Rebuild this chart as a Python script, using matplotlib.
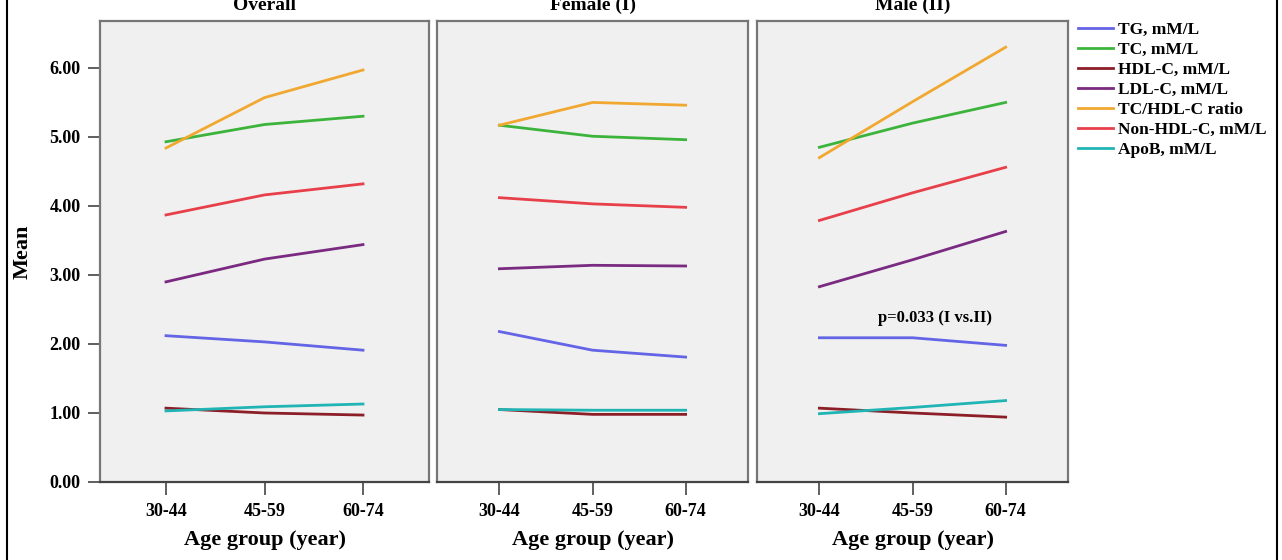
import matplotlib
matplotlib.use("Agg")
import matplotlib.pyplot as plt
from matplotlib.lines import Line2D

plt.rcParams['font.family'] = ['Liberation Serif', 'DejaVu Serif']
plt.rcParams['font.weight'] = 'bold'

age_groups = ["30-44", "45-59", "60-74"]
panels = ["Overall", "Female (I)", "Male (II)"]
series = ["TG, mM/L", "TC, mM/L", "HDL-C, mM/L", "LDL-C, mM/L",
          "TC/HDL-C ratio", "Non-HDL-C, mM/L", "ApoB, mM/L"]
colors = ["#6464e6", "#3cb43c", "#8c1e28", "#7a2a80",
          "#f0a830", "#e8404a", "#20b4b4"]

# mean values per panel, one list per series (same order as `series`)
overall = [
    [2.12, 2.03, 1.91],
    [4.93, 5.18, 5.30],
    [1.07, 1.00, 0.97],
    [2.90, 3.23, 3.44],
    [4.84, 5.57, 5.97],
    [3.87, 4.16, 4.32],
    [1.03, 1.09, 1.13],
]
female = [
    [2.18, 1.91, 1.81],
    [5.17, 5.01, 4.96],
    [1.05, 0.98, 0.98],
    [3.09, 3.14, 3.13],
    [5.17, 5.50, 5.46],
    [4.12, 4.03, 3.98],
    [1.05, 1.04, 1.04],
]
male = [
    [2.09, 2.09, 1.98],
    [4.85, 5.20, 5.50],
    [1.07, 1.00, 0.94],
    [2.83, 3.22, 3.63],
    [4.70, 5.51, 6.30],
    [3.79, 4.19, 4.56],
    [0.99, 1.08, 1.18],
]
panel_data = [overall, female, male]
yticks = [0, 1, 2, 3, 4, 5, 6]

W, H = 1282, 560
fig = plt.figure(figsize=(W / 100, H / 100), dpi=100)

# panel boxes in pixels: (left, right)
boxes = [(100, 429), (437, 748), (757, 1068)]
top, bottom = 21, 482

axes = []
for i, (l, r) in enumerate(boxes):
    ax = fig.add_axes([l / W, (H - bottom) / H, (r - l) / W, (bottom - top) / H])
    ax.set_facecolor("#f0f0f0")
    for k, vals in enumerate(panel_data[i]):
        ax.plot(range(3), vals, color=colors[k], lw=2.0, label=series[k])
    ax.set_xlim(-0.67, 2.67)
    ax.set_ylim(0, 6.68)
    ax.set_xticks(range(3))
    ax.set_xticklabels(age_groups, fontsize=13, fontweight='bold')
    ax.tick_params(axis='x', length=9, width=1.2, color="#444", pad=6)
    for s in ax.spines.values():
        s.set_color("#777")
        s.set_linewidth(1.6)
    ax.spines['bottom'].set_color("#444")
    ax.set_xlabel("Age group (year)", fontsize=16, fontweight='bold', labelpad=7)
    if i == 0:
        ax.set_yticks(yticks)
        ax.set_yticklabels(["%.2f" % v for v in yticks], fontsize=13, fontweight='bold')
        ax.tick_params(axis='y', length=9, width=1.2, color="#444", pad=5)
        ax.set_ylabel("Mean", fontsize=16, fontweight='bold', labelpad=12)
    else:
        ax.set_yticks([])
    # panel title, partly cut off by the top edge as in the source image
    fig.text(((l + r) / 2) / W, 1 - 10 / H, panels[i], ha='center', va='baseline',
             fontsize=14, fontweight='bold')
    axes.append(ax)

axes[2].text(1.24, 2.38, "p=0.033 (I vs.II)", ha='center', va='center',
             fontsize=12, fontweight='bold')

handles, labels = axes[0].get_legend_handles_labels()
fig.legend(handles, labels, loc='upper left', bbox_to_anchor=(1078 / W, 1 - 22 / H),
           frameon=False, handlelength=2.0, handletextpad=0.3,
           labelspacing=0.22, borderaxespad=0, borderpad=0,
           prop={'weight': 'bold', 'size': 12.5})

# outer frame lines at left and right edges
fig.add_artist(Line2D([7 / W, 7 / W], [0, 1], color='black', lw=1.5))
fig.add_artist(Line2D([1277 / W, 1277 / W], [0, 1], color='black', lw=1.5))

fig.savefig("out.png", dpi=100)
